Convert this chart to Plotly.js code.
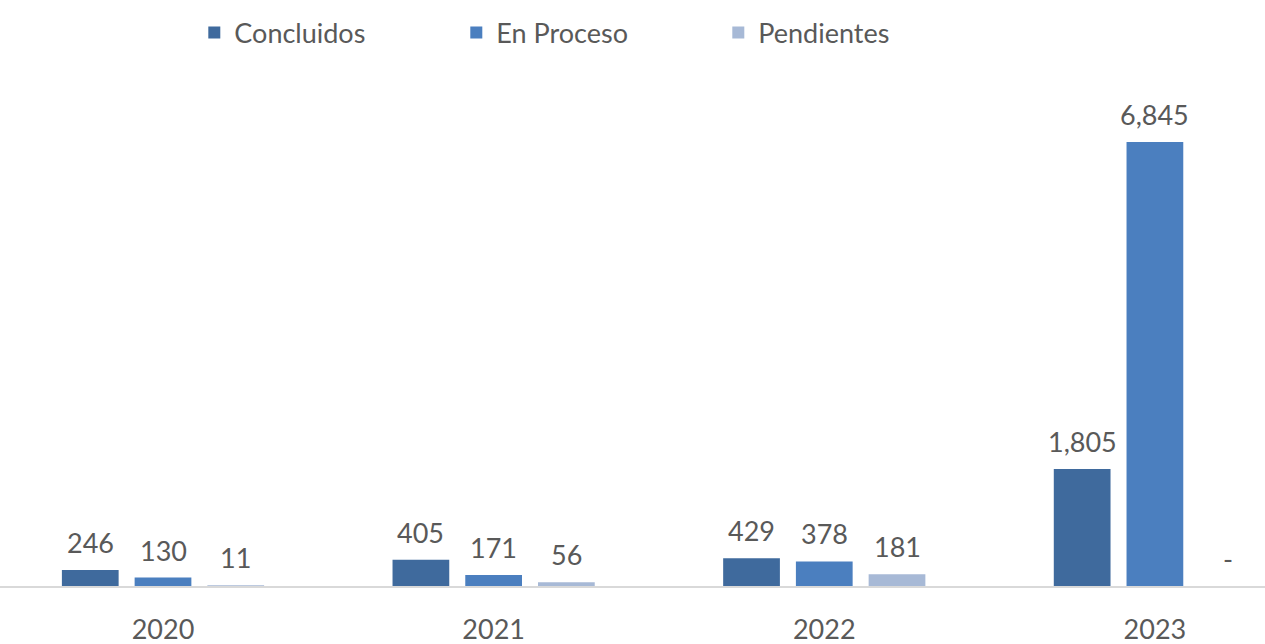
<!DOCTYPE html>
<html>
<head>
<meta charset="utf-8">
<script src="https://cdn.plot.ly/plotly-3.0.1.min.js"></script>
<style>html,body{margin:0;padding:0;background:#fff;}#chart{width:1265px;height:644px;}</style>
</head>
<body>
<div id="chart"></div>
<script>
var years = ['2020', '2021', '2022', '2023'];
var concluidos = [246, 405, 429, 1805];
var enProceso = [130, 171, 378, 6845];
var pendientes = [11, 56, 181, 0];
var seriesNames = ['Concluidos', 'En Proceso', 'Pendientes'];
var seriesColors = ['#3F6A9D', '#4B7FBF', '#A7B9D6'];

var xIdx = years.map(function (_, i) { return i; });
var allSeries = [concluidos, enProceso, pendientes];
var bargap = 0.34;
var slot = (1 - bargap) / allSeries.length;

var traces = allSeries.map(function (vals, s) {
  return {
    type: 'bar',
    name: seriesNames[s],
    x: xIdx,
    y: vals,
    marker: {color: seriesColors[s]},
    hoverinfo: 'none'
  };
});

function fmt(v) {
  return v === 0 ? '-' : v.toLocaleString('en-US');
}

var annotations = [];
allSeries.forEach(function (vals, s) {
  vals.forEach(function (v, i) {
    annotations.push({
      x: i + (s - 1) * slot,
      y: v,
      xref: 'x', yref: 'y',
      text: fmt(v),
      showarrow: false,
      yanchor: 'bottom',
      yshift: 9,
      font: {family: 'Lato, sans-serif', size: 27, color: '#595959'}
    });
  });
});

var layout = {
  width: 1265,
  height: 644,
  margin: {l: 0, r: 0, t: 80, b: 58},
  paper_bgcolor: '#ffffff',
  plot_bgcolor: '#ffffff',
  barmode: 'group',
  bargap: bargap,
  bargroupgap: 0.22,
  showlegend: true,
  legend: {
    orientation: 'h',
    x: 0.1536, xanchor: 'left',
    y: 0.9488, yanchor: 'middle',
    yref: 'container',
    font: {family: 'Lato, sans-serif', size: 27, color: '#595959'},
    entrywidth: 217,
    entrywidthmode: 'pixels'
  },
  xaxis: {
    type: 'linear',
    range: [-0.493, 3.333],
    tickvals: xIdx,
    ticktext: years,
    showgrid: false,
    zeroline: false,
    showline: true,
    linecolor: '#D9D9D9',
    linewidth: 2,
    ticks: '',
    ticklabelstandoff: 19,
    tickfont: {family: 'Lato, sans-serif', size: 27, color: '#595959'}
  },
  yaxis: {
    range: [0, 7800],
    visible: false,
    showgrid: false,
    zeroline: false
  },
  annotations: annotations,
  font: {family: 'Lato, sans-serif', color: '#595959'}
};

Plotly.newPlot('chart', traces, layout, {displayModeBar: false, staticPlot: true});
</script>
</body>
</html>
